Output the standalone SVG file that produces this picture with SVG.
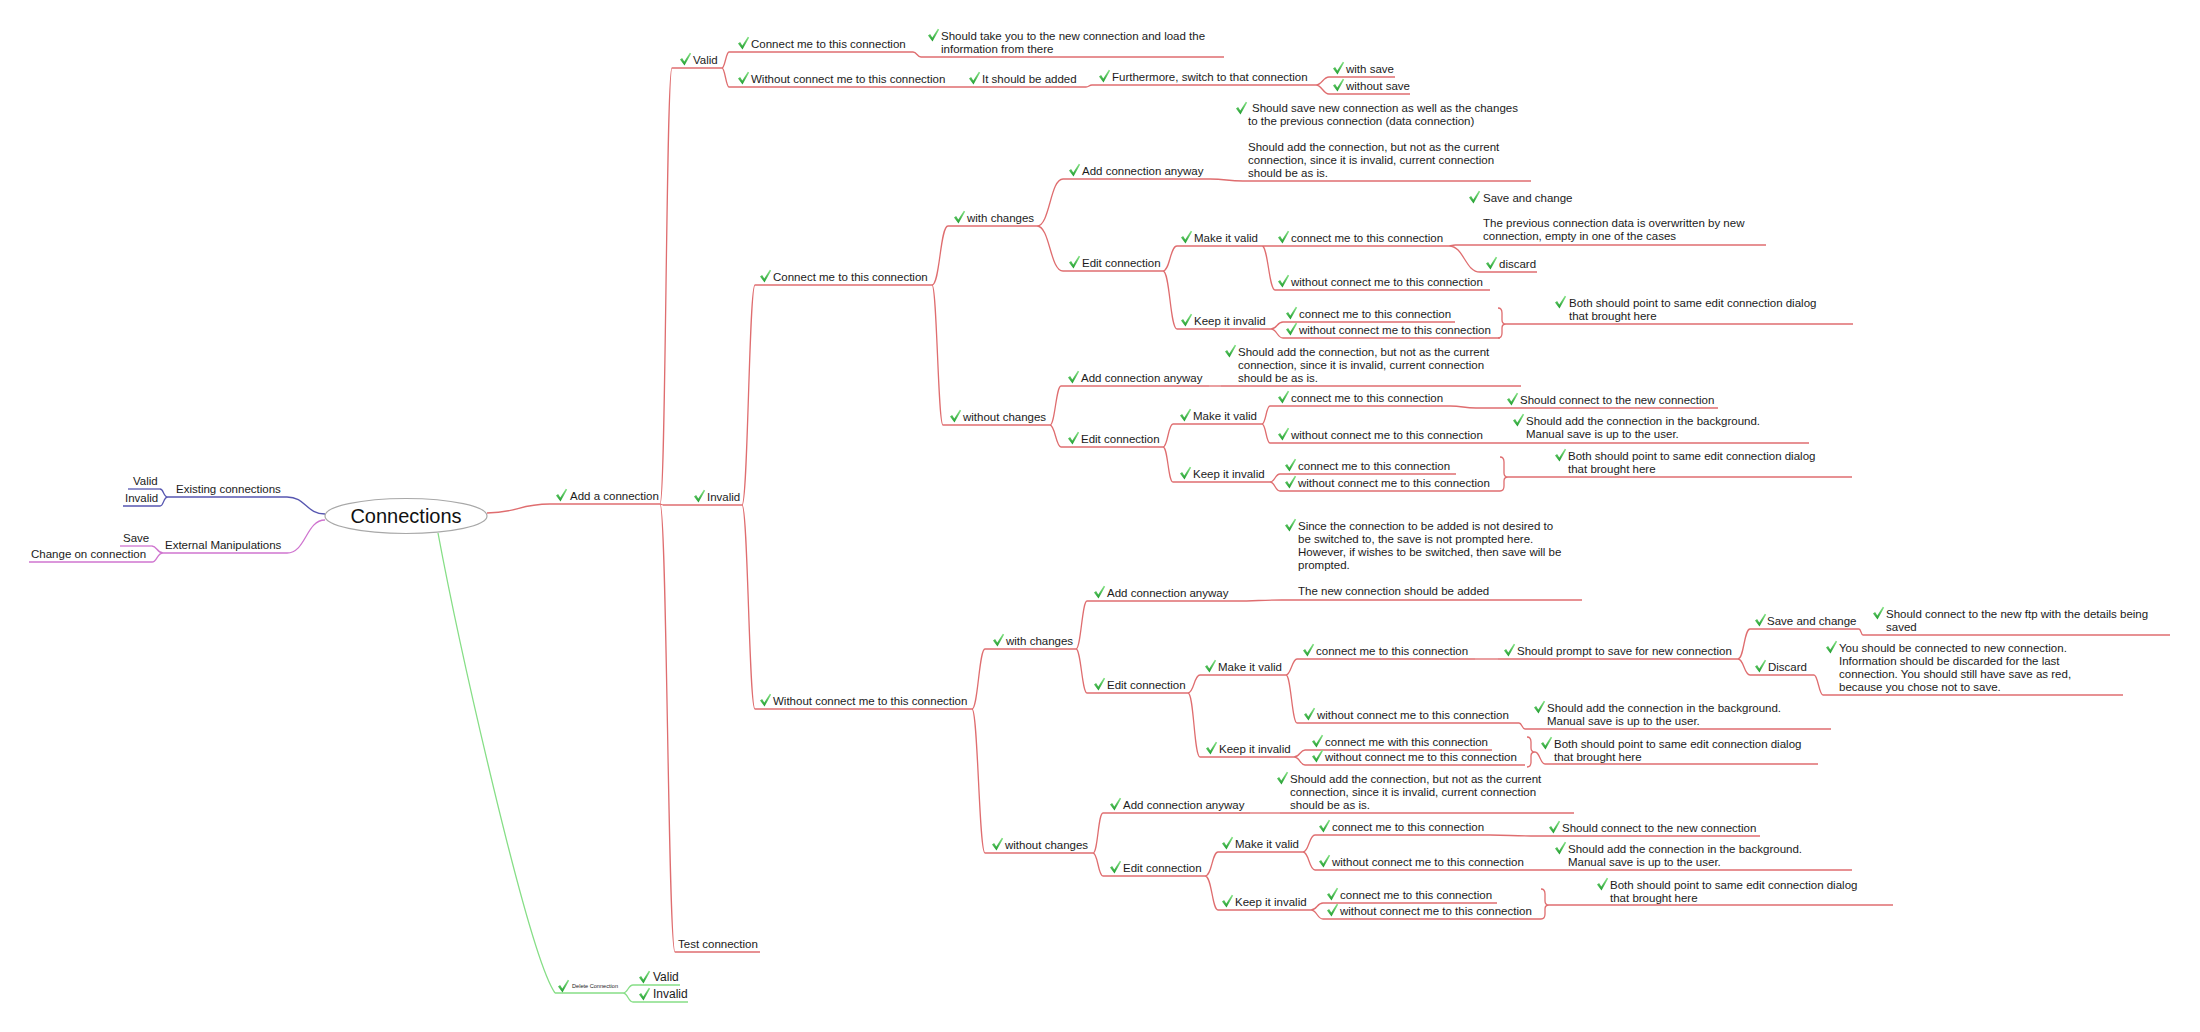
<svg xmlns="http://www.w3.org/2000/svg" width="2200" height="1032" viewBox="0 0 2200 1032">
<style>
.t{font-family:"Liberation Sans",Arial,sans-serif;font-size:11.5px;fill:#1b1b1b}
.t2{font-family:"Liberation Sans",Arial,sans-serif;font-size:12px;fill:#1b1b1b}
.tiny{font-family:"Liberation Sans",Arial,sans-serif;font-size:5.6px;fill:#1b1b1b}
.root{font-family:"Liberation Sans",Arial,sans-serif;font-size:20px;fill:#111}
.r{fill:none;stroke:#df6d6f;stroke-width:1.3}
.bl{fill:none;stroke:#5656b0;stroke-width:1.3}
.mg{fill:none;stroke:#cf74cf;stroke-width:1.3}
.gr{fill:none;stroke:#86de86;stroke-width:1.3}
</style>
<defs>
<linearGradient id="cg" x1="0" y1="0" x2="0" y2="1"><stop offset="0" stop-color="#86e486"/><stop offset="1" stop-color="#1f9c2e"/></linearGradient>
<path id="ck" d="M0,-5.6 L2.1,-6.9 L4.3,-3.6 L9.8,-12.2 L11.2,-11.4 L4.5,0.4 Z" fill="url(#cg)"/>
</defs>
<rect width="2200" height="1032" fill="#ffffff"/>

<g id="connectors">
<path class="bl" d="M325,514 C306,514 306,497 287,497"/>
<path class="bl" d="M168,497 C163,497 164,489 160,489 M168,497 C163,497 164,506 160,506"/>
<path class="mg" d="M325,520 C306,520 306,553 287,553"/>
<path class="mg" d="M163,553 C157,553 157,546 152,546 M163,553 C157,553 157,562 152,562"/>
<path class="r" d="M487,513 C518,513 518,504 550,504"/>
<path class="r" d="M660,504 C666,504 666,68 672,68 M660,504 L663,505 M660,504 C667,504 668,952 675,952"/>
<path class="r" d="M722,68 C725,68 726,52 729,52 M722,68 C725,68 726,87 729,87"/>
<path class="r" d="M913,52 C917,52 917,57 921,57 M950,87 L956,87 M1086,87 C1089,87 1089,85 1092,85"/>
<path class="r" d="M1316,85 C1322,85 1323,77 1329,77 M1316,85 C1322,85 1323,94 1329,94"/>
<path class="r" d="M742,505 C748,505 749,285 755,285 M742,505 C748,505 749,709 755,709"/>
<path class="r" d="M932,285 C940,285 940,226 948,226 M932,285 C937,285 938,425 943,425"/>
<path class="r" d="M1037,226 C1050,226 1050,179 1063,179 M1037,226 C1050,226 1050,271 1063,271"/>
<path class="r" d="M1210,179 C1226,179 1227,181 1243,181"/>
<path class="r" d="M1163,271 C1170,271 1170,246 1177,246 M1163,271 C1170,271 1170,329 1177,329"/>
<path class="r" d="M1262,246 L1275,246 M1262,246 C1268,246 1269,290 1275,290"/>
<path class="r" d="M1449,246 L1455,245 M1449,246 C1464,246 1465,272 1480,272"/>
<path class="r" d="M1271,329 C1277,329 1277,322 1283,322 M1271,329 C1277,329 1277,338 1283,338"/>
<path class="r" d="M1498,308 Q1502,308 1502,313 L1502,320 Q1502,324 1506,324 Q1502,324 1502,328 L1502,333 Q1502,338 1498,338"/>
<path class="r" d="M1050,425 C1055,425 1056,386 1061,386 M1050,425 C1055,425 1056,447 1061,447"/>
<path class="r" d="M1209,386 L1221,386"/>
<path class="r" d="M1163,447 C1168,447 1168,424 1173,424 M1163,447 C1168,447 1168,482 1173,482"/>
<path class="r" d="M1262,424 C1266,424 1266,406 1270,406 M1262,424 C1266,424 1266,443 1270,443"/>
<path class="r" d="M1450,406 C1463,406 1463,408 1476,408"/>
<path class="r" d="M1270,482 C1275,482 1275,474 1280,474 M1270,482 C1275,482 1275,491 1280,491"/>
<path class="r" d="M1500,457 Q1504,457 1504,462 L1504,473 Q1504,477 1508,477 Q1504,477 1504,481 L1504,486 Q1504,491 1500,491"/>
<path class="r" d="M972,709 C978,709 979,649 985,649 M972,709 C978,709 979,853 985,853"/>
<path class="r" d="M1076,649 C1081,649 1082,601 1087,601 M1076,649 C1081,649 1082,693 1087,693"/>
<path class="r" d="M1235,601 C1258,601 1259,600 1282,600"/>
<path class="r" d="M1188,693 C1194,693 1194,675 1200,675 M1188,693 C1194,693 1194,757 1200,757"/>
<path class="r" d="M1286,675 C1291,675 1292,659 1297,659 M1286,675 C1291,675 1292,723 1297,723"/>
<path class="r" d="M1475,659 L1498,659"/>
<path class="r" d="M1738,659 C1744,659 1744,629 1750,629 M1738,659 C1744,659 1744,675 1750,675"/>
<path class="r" d="M1859,629 C1861,629 1861,635 1863,635"/>
<path class="r" d="M1814,675 C1818,675 1819,695 1823,695"/>
<path class="r" d="M1519,723 C1522,723 1522,729 1525,729"/>
<path class="r" d="M1294,757 C1300,757 1300,750 1305,750 M1294,757 C1300,757 1300,765 1305,765"/>
<path class="r" d="M1527,737 Q1531,737 1531,742 L1531,748 Q1531,752 1535,752 Q1531,752 1531,756 L1531,762 Q1531,767 1527,767 M1535,752 C1540,752 1540,764 1545,764"/>
<path class="r" d="M1093,853 C1098,853 1098,813 1103,813 M1093,853 C1098,853 1098,876 1103,876"/>
<path class="r" d="M1250,813 L1280,813"/>
<path class="r" d="M1205,876 C1212,876 1212,852 1218,852 M1205,876 C1212,876 1212,910 1218,910"/>
<path class="r" d="M1303,852 C1309,852 1309,835 1315,835 M1303,852 C1309,852 1309,870 1315,870"/>
<path class="r" d="M1490,835 C1510,835 1511,836 1531,836 M1540,870 L1552,870"/>
<path class="r" d="M1311,910 C1317,910 1317,903 1323,903 M1311,910 C1317,910 1317,919 1323,919"/>
<path class="r" d="M1541,889 Q1545,889 1545,894 L1545,901 Q1545,905 1549,905 Q1545,905 1545,909 L1545,914 Q1545,919 1541,919"/>
<path class="gr" d="M438,533 C458,640 528,955 555,993"/>
<path class="gr" d="M623,993 C628,993 628,985 633,985 M623,993 C628,993 628,1002 633,1002"/>
</g>

<g id="root"><ellipse cx="406" cy="516" rx="81" ry="17.5" fill="#fff" stroke="#a8a8a8" stroke-width="1.2"/><text class="root" x="406" y="523" text-anchor="middle">Connections</text></g>

<g id="n-existing"><path class="bl" d="M168,497H287"/><text class="t" x="176" y="493">Existing connections</text></g>
<g id="n-existing-valid"><path class="bl" d="M128,489H160"/><text class="t" x="133" y="485">Valid</text></g>
<g id="n-existing-invalid"><path class="bl" d="M123,506H160"/><text class="t" x="125" y="502">Invalid</text></g>
<g id="n-external"><path class="mg" d="M163,553H287"/><text class="t" x="165" y="549">External Manipulations</text></g>
<g id="n-ext-save"><path class="mg" d="M120,546H152"/><text class="t" x="123" y="542">Save</text></g>
<g id="n-ext-change"><path class="mg" d="M29,562H152"/><text class="t" x="31" y="558">Change on connection</text></g>

<g id="n-delete"><path class="gr" d="M555,993H623"/><use href="#ck" x="558" y="992"/><text class="tiny" x="572" y="988">Delete Connection</text></g>
<g id="n-del-valid"><path class="gr" d="M633,985H680"/><use href="#ck" x="639" y="983"/><text class="t2" x="653" y="981">Valid</text></g>
<g id="n-del-invalid"><path class="gr" d="M633,1002H688"/><use href="#ck" x="639" y="1000"/><text class="t2" x="653" y="998">Invalid</text></g>

<g id="n-add"><path class="r" d="M550,504H660"/><use href="#ck" x="556" y="501"/><text class="t" x="570" y="500">Add a connection</text></g>
<g id="n-test"><path class="r" d="M675,952H760"/><text class="t" x="678" y="948">Test connection</text></g>

<g id="n-valid"><path class="r" d="M672,68H722"/><use href="#ck" x="680" y="65"/><text class="t" x="693" y="64">Valid</text></g>
<g id="n-v-connect"><path class="r" d="M729,52H913"/><use href="#ck" x="738" y="49"/><text class="t" x="751" y="48">Connect me to this connection</text></g>
<g id="n-v-connect-1"><path class="r" d="M921,57H1224"/><use href="#ck" x="928" y="41"/><text class="t"><tspan x="941" y="40">Should take you to the new connection and load the</tspan><tspan x="941" y="53">information from there</tspan></text></g>
<g id="n-v-without"><path class="r" d="M729,87H950"/><use href="#ck" x="738" y="84"/><text class="t" x="751" y="83">Without connect me to this connection</text></g>
<g id="n-v-added"><path class="r" d="M956,87H1086"/><use href="#ck" x="969" y="84"/><text class="t" x="982" y="83">It should be added</text></g>
<g id="n-v-switch"><path class="r" d="M1092,85H1316"/><use href="#ck" x="1099" y="82"/><text class="t" x="1112" y="81">Furthermore, switch to that connection</text></g>
<g id="n-v-withsave"><path class="r" d="M1329,77H1395"/><use href="#ck" x="1333" y="74"/><text class="t" x="1346" y="73">with save</text></g>
<g id="n-v-withoutsave"><path class="r" d="M1329,94H1410"/><use href="#ck" x="1333" y="91"/><text class="t" x="1346" y="90">without save</text></g>

<g id="n-invalid"><path class="r" d="M663,505H742"/><use href="#ck" x="694" y="502"/><text class="t" x="707" y="501">Invalid</text></g>

<g id="n-ic"><path class="r" d="M755,285H932"/><use href="#ck" x="760" y="282"/><text class="t" x="773" y="281">Connect me to this connection</text></g>
<g id="n-ic-wc"><path class="r" d="M948,226H1037"/><use href="#ck" x="954" y="223"/><text class="t" x="967" y="222">with changes</text></g>
<g id="n-ic-wc-add"><path class="r" d="M1063,179H1210"/><use href="#ck" x="1069" y="176"/><text class="t" x="1082" y="175">Add connection anyway</text></g>
<g id="n-ic-wc-add-1"><path class="r" d="M1243,181H1531"/><use href="#ck" x="1236" y="114"/><text class="t"><tspan x="1252" y="112">Should save new connection as well as the changes</tspan><tspan x="1248" y="125">to the previous connection (data connection)</tspan><tspan x="1248" y="151">Should add the connection, but not as the current</tspan><tspan x="1248" y="164">connection, since it is invalid, current connection</tspan><tspan x="1248" y="177">should be as is.</tspan></text></g>
<g id="n-ic-wc-edit"><path class="r" d="M1063,271H1163"/><use href="#ck" x="1069" y="268"/><text class="t" x="1082" y="267">Edit connection</text></g>
<g id="n-ic-wc-edit-mv"><path class="r" d="M1177,246H1262"/><use href="#ck" x="1181" y="243"/><text class="t" x="1194" y="242">Make it valid</text></g>
<g id="n-ic-wc-edit-mv-c"><path class="r" d="M1275,246H1449"/><use href="#ck" x="1278" y="243"/><text class="t" x="1291" y="242">connect me to this connection</text></g>
<g id="n-ic-wc-edit-mv-c-save"><path class="r" d="M1455,245H1766"/><use href="#ck" x="1469" y="203"/><text class="t"><tspan x="1483" y="202">Save and change</tspan><tspan x="1483" y="227">The previous connection data is overwritten by new</tspan><tspan x="1483" y="240">connection, empty in one of the cases</tspan></text></g>
<g id="n-ic-wc-edit-mv-c-discard"><path class="r" d="M1480,272H1537"/><use href="#ck" x="1486" y="269"/><text class="t" x="1499" y="268">discard</text></g>
<g id="n-ic-wc-edit-mv-w"><path class="r" d="M1275,290H1490"/><use href="#ck" x="1278" y="287"/><text class="t" x="1291" y="286">without connect me to this connection</text></g>
<g id="n-ic-wc-edit-ki"><path class="r" d="M1177,329H1271"/><use href="#ck" x="1181" y="326"/><text class="t" x="1194" y="325">Keep it invalid</text></g>
<g id="n-ic-wc-edit-ki-c"><path class="r" d="M1283,322H1455"/><use href="#ck" x="1286" y="319"/><text class="t" x="1299" y="318">connect me to this connection</text></g>
<g id="n-ic-wc-edit-ki-w"><path class="r" d="M1283,338H1500"/><use href="#ck" x="1286" y="335"/><text class="t" x="1299" y="334">without connect me to this connection</text></g>
<g id="n-ic-wc-edit-ki-both"><path class="r" d="M1506,324H1853"/><use href="#ck" x="1555" y="308"/><text class="t"><tspan x="1569" y="307">Both should point to same edit connection dialog</tspan><tspan x="1569" y="320">that brought here</tspan></text></g>

<g id="n-ic-woc"><path class="r" d="M943,425H1050"/><use href="#ck" x="950" y="422"/><text class="t" x="963" y="421">without changes</text></g>
<g id="n-ic-woc-add"><path class="r" d="M1061,386H1209"/><use href="#ck" x="1068" y="383"/><text class="t" x="1081" y="382">Add connection anyway</text></g>
<g id="n-ic-woc-add-1"><path class="r" d="M1221,386H1521"/><use href="#ck" x="1225" y="357"/><text class="t"><tspan x="1238" y="356">Should add the connection, but not as the current</tspan><tspan x="1238" y="369">connection, since it is invalid, current connection</tspan><tspan x="1238" y="382">should be as is.</tspan></text></g>
<g id="n-ic-woc-edit"><path class="r" d="M1061,447H1163"/><use href="#ck" x="1068" y="444"/><text class="t" x="1081" y="443">Edit connection</text></g>
<g id="n-ic-woc-edit-mv"><path class="r" d="M1173,424H1262"/><use href="#ck" x="1180" y="421"/><text class="t" x="1193" y="420">Make it valid</text></g>
<g id="n-ic-woc-edit-mv-c"><path class="r" d="M1270,406H1450"/><use href="#ck" x="1278" y="403"/><text class="t" x="1291" y="402">connect me to this connection</text></g>
<g id="n-ic-woc-edit-mv-c-1"><path class="r" d="M1476,408H1718"/><use href="#ck" x="1507" y="405"/><text class="t" x="1520" y="404">Should connect to the new connection</text></g>
<g id="n-ic-woc-edit-mv-w"><path class="r" d="M1270,443H1506"/><use href="#ck" x="1278" y="440"/><text class="t" x="1291" y="439">without connect me to this connection</text></g>
<g id="n-ic-woc-edit-mv-w-1"><path class="r" d="M1506,443H1809"/><use href="#ck" x="1513" y="426"/><text class="t"><tspan x="1526" y="425">Should add the connection in the background.</tspan><tspan x="1526" y="438">Manual save is up to the user.</tspan></text></g>
<g id="n-ic-woc-edit-ki"><path class="r" d="M1173,482H1270"/><use href="#ck" x="1180" y="479"/><text class="t" x="1193" y="478">Keep it invalid</text></g>
<g id="n-ic-woc-edit-ki-c"><path class="r" d="M1280,474H1456"/><use href="#ck" x="1285" y="471"/><text class="t" x="1298" y="470">connect me to this connection</text></g>
<g id="n-ic-woc-edit-ki-w"><path class="r" d="M1280,491H1500"/><use href="#ck" x="1285" y="488"/><text class="t" x="1298" y="487">without connect me to this connection</text></g>
<g id="n-ic-woc-edit-ki-both"><path class="r" d="M1508,477H1852"/><use href="#ck" x="1555" y="461"/><text class="t"><tspan x="1568" y="460">Both should point to same edit connection dialog</tspan><tspan x="1568" y="473">that brought here</tspan></text></g>

<g id="n-iw"><path class="r" d="M755,709H972"/><use href="#ck" x="760" y="706"/><text class="t" x="773" y="705">Without connect me to this connection</text></g>
<g id="n-iw-wc"><path class="r" d="M985,649H1076"/><use href="#ck" x="993" y="646"/><text class="t" x="1006" y="645">with changes</text></g>
<g id="n-iw-wc-add"><path class="r" d="M1087,601H1235"/><use href="#ck" x="1094" y="598"/><text class="t" x="1107" y="597">Add connection anyway</text></g>
<g id="n-iw-wc-add-1"><path class="r" d="M1282,600H1582"/><use href="#ck" x="1285" y="531"/><text class="t"><tspan x="1298" y="530">Since the connection to be added is not desired to</tspan><tspan x="1298" y="543">be switched to, the save is not prompted here.</tspan><tspan x="1298" y="556">However, if wishes to be switched, then save will be</tspan><tspan x="1298" y="569">prompted.</tspan><tspan x="1298" y="595">The new connection should be added</tspan></text></g>
<g id="n-iw-wc-edit"><path class="r" d="M1087,693H1188"/><use href="#ck" x="1094" y="690"/><text class="t" x="1107" y="689">Edit connection</text></g>
<g id="n-iw-wc-edit-mv"><path class="r" d="M1200,675H1286"/><use href="#ck" x="1205" y="672"/><text class="t" x="1218" y="671">Make it valid</text></g>
<g id="n-iw-wc-edit-mv-c"><path class="r" d="M1297,659H1475"/><use href="#ck" x="1303" y="656"/><text class="t" x="1316" y="655">connect me to this connection</text></g>
<g id="n-iw-wc-edit-mv-c-prompt"><path class="r" d="M1498,659H1738"/><use href="#ck" x="1504" y="656"/><text class="t" x="1517" y="655">Should prompt to save for new connection</text></g>
<g id="n-iw-prompt-save"><path class="r" d="M1750,629H1859"/><use href="#ck" x="1755" y="626"/><text class="t" x="1767" y="625">Save and change</text></g>
<g id="n-iw-prompt-save-1"><path class="r" d="M1863,635H2170"/><use href="#ck" x="1873" y="619"/><text class="t"><tspan x="1886" y="618">Should connect to the new ftp with the details being</tspan><tspan x="1886" y="631">saved</tspan></text></g>
<g id="n-iw-prompt-discard"><path class="r" d="M1750,675H1814"/><use href="#ck" x="1755" y="672"/><text class="t" x="1768" y="671">Discard</text></g>
<g id="n-iw-prompt-discard-1"><path class="r" d="M1823,695H2123"/><use href="#ck" x="1826" y="653"/><text class="t"><tspan x="1839" y="652">You should be connected to new connection.</tspan><tspan x="1839" y="665">Information should be discarded for the last</tspan><tspan x="1839" y="678">connection. You should still have save as red,</tspan><tspan x="1839" y="691">because you chose not to save.</tspan></text></g>
<g id="n-iw-wc-edit-mv-w"><path class="r" d="M1297,723H1519"/><use href="#ck" x="1304" y="720"/><text class="t" x="1317" y="719">without connect me to this connection</text></g>
<g id="n-iw-wc-edit-mv-w-1"><path class="r" d="M1525,729H1831"/><use href="#ck" x="1534" y="713"/><text class="t"><tspan x="1547" y="712">Should add the connection in the background.</tspan><tspan x="1547" y="725">Manual save is up to the user.</tspan></text></g>
<g id="n-iw-wc-edit-ki"><path class="r" d="M1200,757H1294"/><use href="#ck" x="1206" y="754"/><text class="t" x="1219" y="753">Keep it invalid</text></g>
<g id="n-iw-wc-edit-ki-c"><path class="r" d="M1305,750H1492"/><use href="#ck" x="1312" y="747"/><text class="t" x="1325" y="746">connect me with this connection</text></g>
<g id="n-iw-wc-edit-ki-w"><path class="r" d="M1305,765H1525"/><use href="#ck" x="1312" y="762"/><text class="t" x="1325" y="761">without connect me to this connection</text></g>
<g id="n-iw-wc-edit-ki-both"><path class="r" d="M1545,764H1818"/><use href="#ck" x="1541" y="749"/><text class="t"><tspan x="1554" y="748">Both should point to same edit connection dialog</tspan><tspan x="1554" y="761">that brought here</tspan></text></g>

<g id="n-iw-woc"><path class="r" d="M985,853H1093"/><use href="#ck" x="992" y="850"/><text class="t" x="1005" y="849">without changes</text></g>
<g id="n-iw-woc-add"><path class="r" d="M1103,813H1250"/><use href="#ck" x="1110" y="810"/><text class="t" x="1123" y="809">Add connection anyway</text></g>
<g id="n-iw-woc-add-1"><path class="r" d="M1280,813H1574"/><use href="#ck" x="1277" y="784"/><text class="t"><tspan x="1290" y="783">Should add the connection, but not as the current</tspan><tspan x="1290" y="796">connection, since it is invalid, current connection</tspan><tspan x="1290" y="809">should be as is.</tspan></text></g>
<g id="n-iw-woc-edit"><path class="r" d="M1103,876H1205"/><use href="#ck" x="1110" y="873"/><text class="t" x="1123" y="872">Edit connection</text></g>
<g id="n-iw-woc-edit-mv"><path class="r" d="M1218,852H1303"/><use href="#ck" x="1222" y="849"/><text class="t" x="1235" y="848">Make it valid</text></g>
<g id="n-iw-woc-edit-mv-c"><path class="r" d="M1315,835H1490"/><use href="#ck" x="1319" y="832"/><text class="t" x="1332" y="831">connect me to this connection</text></g>
<g id="n-iw-woc-edit-mv-c-1"><path class="r" d="M1531,836H1760"/><use href="#ck" x="1549" y="833"/><text class="t" x="1562" y="832">Should connect to the new connection</text></g>
<g id="n-iw-woc-edit-mv-w"><path class="r" d="M1315,870H1540"/><use href="#ck" x="1319" y="867"/><text class="t" x="1332" y="866">without connect me to this connection</text></g>
<g id="n-iw-woc-edit-mv-w-1"><path class="r" d="M1552,870H1852"/><use href="#ck" x="1555" y="854"/><text class="t"><tspan x="1568" y="853">Should add the connection in the background.</tspan><tspan x="1568" y="866">Manual save is up to the user.</tspan></text></g>
<g id="n-iw-woc-edit-ki"><path class="r" d="M1218,910H1311"/><use href="#ck" x="1222" y="907"/><text class="t" x="1235" y="906">Keep it invalid</text></g>
<g id="n-iw-woc-edit-ki-c"><path class="r" d="M1323,903H1497"/><use href="#ck" x="1327" y="900"/><text class="t" x="1340" y="899">connect me to this connection</text></g>
<g id="n-iw-woc-edit-ki-w"><path class="r" d="M1323,919H1541"/><use href="#ck" x="1327" y="916"/><text class="t" x="1340" y="915">without connect me to this connection</text></g>
<g id="n-iw-woc-edit-ki-both"><path class="r" d="M1549,905H1893"/><use href="#ck" x="1597" y="890"/><text class="t"><tspan x="1610" y="889">Both should point to same edit connection dialog</tspan><tspan x="1610" y="902">that brought here</tspan></text></g>
</svg>
